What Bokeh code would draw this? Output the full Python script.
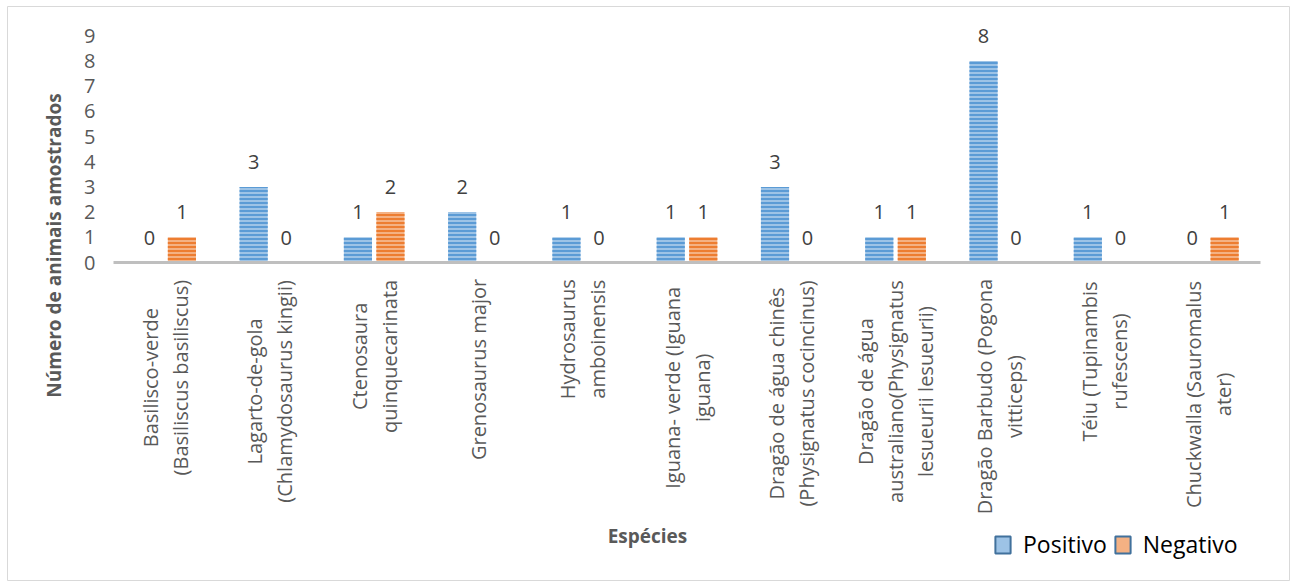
import math
from bokeh.plotting import figure
from bokeh.models import (Range1d, FixedTicker, LinearAxis, Label, Legend, LegendItem,
                          BoxAnnotation, ColumnDataSource)
from bokeh.transform import dodge
from bokeh.core.properties import value
from bokeh.embed import file_html
from bokeh.resources import INLINE

# ---------------- data ----------------
categories = [
    "Basilisco-verde\n(Basiliscus basiliscus)",
    "Lagarto-de-gola\n(Chlamydosaurus kingii)",
    "Ctenosaura\nquinquecarinata",
    "Grenosaurus major",
    "Hydrosaurus\namboinensis",
    "Iguana- verde (Iguana\niguana)",
    "Dragão de água chinês\n(Physignatus cocincinus)",
    "Dragão de água\naustraliano(Physignatus\nlesueurii lesueurii)",
    "Dragão Barbudo (Pogona\nvitticeps)",
    "Téiu (Tupinambis\nrufescens)",
    "Chuckwalla (Sauromalus\nater)",
]
positivo = [0, 3, 1, 2, 1, 1, 3, 1, 8, 1, 0]
negativo = [1, 0, 2, 0, 0, 1, 0, 1, 0, 0, 1]
series_names = ["Positivo", "Negativo"]
y_ticks = [0, 1, 2, 3, 4, 5, 6, 7, 8, 9]
y_title = "Número de animais amostrados"
x_title = "Espécies"

# ---------------- layout / style ----------------
FONT = "Open Sans"
W, H = 1296, 587
PX0, PX1 = 113, 1260          # pixel x of data x=0 and x=n (plot area)
PY0, PY9 = 262, 35.2          # pixel y (from top) of value 0 and value 9
BAR_W = 0.27
OFF = 0.156
CAT_FS = 20
CAT_LS = 30                   # line spacing of category labels (px)

n = len(categories)
ux = (PX1 - PX0) / n
uy = (PY0 - PY9) / 9.0
x_start, x_end = -PX0 / ux, n + (W - PX1) / ux
y_start, y_end = -(H - PY0) / uy, PY0 / uy


def sx(px):   # canvas px -> frame screen x
    return px


def sy(py):   # canvas px (from top) -> frame screen y (from bottom)
    return H - py


# approximate Open Sans advance widths (em) to centre multi-line rotated labels
_w = {'a': .556, 'b': .613, 'c': .48, 'd': .613, 'e': .561, 'f': .34, 'g': .547, 'h': .618,
      'i': .258, 'j': .258, 'k': .53, 'l': .258, 'm': .937, 'n': .618, 'o': .602, 'p': .613,
      'q': .613, 'r': .409, 's': .477, 't': .352, 'u': .618, 'v': .5, 'w': .774, 'x': .524,
      'y': .5, 'z': .468, ' ': .26, '(': .296, ')': .296, '-': .322}
_acc = {'ã': 'a', 'á': 'a', 'â': 'a', 'ê': 'e', 'é': 'e', 'í': 'i', 'ó': 'o', 'ú': 'u'}


def text_w(s, size):
    return sum(_w.get(_acc.get(ch, ch), .63) for ch in s) * size


src = ColumnDataSource(dict(
    xc=[i + 0.5 for i in range(n)],
    pos=positivo, neg=negativo,
    pos_lbl=[str(v) for v in positivo],
    neg_lbl=[str(v) for v in negativo],
))

p = figure(width=W, height=H, output_backend="svg", toolbar_location=None,
           x_range=Range1d(x_start, x_end), y_range=Range1d(y_start, y_end),
           min_border=0, min_border_left=0, min_border_right=0,
           min_border_top=0, min_border_bottom=0,
           x_axis_location=None, y_axis_location=None,
           background_fill_color="white", border_fill_color="white")
p.outline_line_color = None
p.xgrid.visible = False
p.ygrid.visible = False

# y axis fixed at x = 0
yax = LinearAxis(ticker=FixedTicker(ticks=y_ticks), fixed_location=0)
yax.axis_line_color = None
yax.major_tick_line_color = None
yax.minor_tick_line_color = None
yax.major_tick_out = 0
yax.major_tick_in = 0
yax.major_label_text_font = FONT
yax.major_label_text_font_size = "20px"
yax.major_label_text_color = "#595959"
yax.major_label_standoff = 18
p.add_layout(yax, "left")

# x axis fixed at y = 0 (category axis line)
xax = LinearAxis(ticker=FixedTicker(ticks=[]), fixed_location=0, bounds=(0, n))
xax.axis_line_color = "#BFBFBF"
xax.axis_line_width = 3
xax.major_tick_line_color = None
xax.minor_tick_line_color = None
xax.major_label_text_font_size = "0px"
p.add_layout(xax, "below")

# bars
bar_pos = p.vbar(x=dodge('xc', -OFF, range=p.x_range), top='pos', width=BAR_W, source=src,
                 fill_color="#9DC3E6", line_color=None,
                 hatch_pattern="horizontal_line", hatch_color="#5B9BD5",
                 hatch_scale=4, hatch_weight=2)
bar_neg = p.vbar(x=dodge('xc', OFF, range=p.x_range), top='neg', width=BAR_W, source=src,
                 fill_color="#F4B183", line_color=None,
                 hatch_pattern="horizontal_line", hatch_color="#ED7D31",
                 hatch_scale=4, hatch_weight=2)

# data labels
for field, lbl, off in (("pos", "pos_lbl", -OFF), ("neg", "neg_lbl", OFF)):
    p.text(x=dodge('xc', off, range=p.x_range), y=field, text=lbl, source=src,
           text_align="center", text_baseline="middle", y_offset=-25,
           text_font=value(FONT), text_font_size="20px", text_color="#404040")

# category labels (rotated, each line centred on the block)
for i, cat in enumerate(categories):
    lines = cat.split("\n")
    k = len(lines)
    L = max(text_w(s, CAT_FS) for s in lines)
    for j, line in enumerate(lines):
        p.add_layout(Label(x=i + 0.5, y=sy(PY0 + 17 + L / 2), x_units="data", y_units="screen",
                           x_offset=(j - (k - 1) / 2) * CAT_LS,
                           text=line, angle=math.pi / 2, text_align="center",
                           text_baseline="middle", text_font=FONT,
                           text_font_size=f"{CAT_FS}px", text_color="#595959"))

# axis titles
p.add_layout(Label(x=sx(53), y=sy(245), x_units="screen", y_units="screen",
                   text=y_title, angle=math.pi / 2, text_align="center", text_baseline="middle",
                   text_font=FONT, text_font_size="19px", text_font_style="bold",
                   text_color="#595959"))
p.add_layout(Label(x=sx(647), y=sy(535), x_units="screen", y_units="screen",
                   text=x_title, text_align="center", text_baseline="middle",
                   text_font=FONT, text_font_size="19px", text_font_style="bold",
                   text_color="#595959"))

# legend swatches: hidden solid copies of the bar series (solid fill, dark outline)
r1 = p.vbar(x=dodge('xc', -OFF, range=p.x_range), top='pos', width=BAR_W, source=src,
            fill_color="#9DC3E6", line_color="#41719C", line_width=2, visible=False)
r2 = p.vbar(x=dodge('xc', OFF, range=p.x_range), top='neg', width=BAR_W, source=src,
            fill_color="#F4B183", line_color="#41719C", line_width=2, visible=False)
legend = Legend(items=[LegendItem(label=series_names[0], renderers=[r1]),
                       LegendItem(label=series_names[1], renderers=[r2])],
                orientation="horizontal", location=(sx(993), sy(560)),
                glyph_width=19, glyph_height=21, label_text_font=FONT,
                label_text_font_size="23px", label_text_color="#000000",
                label_standoff=11, spacing=6, padding=0, margin=0,
                border_line_color=None, background_fill_alpha=0)
p.add_layout(legend, "center")

# chart-area border
p.add_layout(BoxAnnotation(left=sx(7), right=sx(1289), top=sy(6), bottom=sy(580),
                           left_units="screen", right_units="screen",
                           top_units="screen", bottom_units="screen",
                           fill_alpha=0, line_color="#D9D9D9", line_width=1, line_alpha=1))

open("out.html", "w").write(file_html(p, INLINE))
